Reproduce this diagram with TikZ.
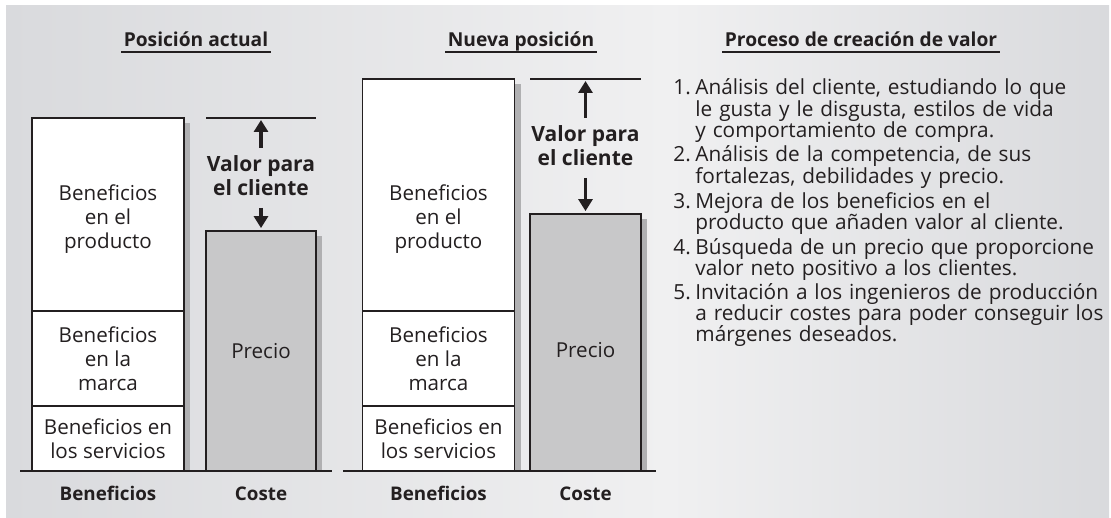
\documentclass[tikz,border=0pt]{standalone}
\usepackage{fontspec}
\setmainfont{Open Sans}
\usetikzlibrary{arrows.meta}

\definecolor{panelgray}{RGB}{217,218,221}
\definecolor{panellight}{RGB}{240,240,241}
\definecolor{shadowgray}{RGB}{176,176,178}
\definecolor{costgray}{RGB}{200,200,201}
\definecolor{inkgray}{RGB}{35,31,32}

\pgfdeclarehorizontalshading{panelshade}{100bp}{color(0bp)=(panelgray); color(25bp)=(panelgray); color(55bp)=(panellight); color(75bp)=(panelgray); color(100bp)=(panelgray)}

\newcommand{\boxfont}{\fontsize{10.3}{12}\selectfont}
\newcommand{\headfont}{\fontsize{9.6}{12}\selectfont\bfseries}
\newcommand{\footfont}{\fontsize{9.4}{12}\selectfont\bfseries}
\newcommand{\valfont}{\fontsize{10.5}{11.7}\selectfont\bfseries}
\newcommand{\listfont}{\fontsize{10.4}{10.6}\selectfont}

\tikzset{
  benbox/.style={draw=inkgray, line width=0.9pt, fill=white, minimum width=76pt, inner sep=0pt, align=center, font=\boxfont, text=inkgray},
  costbox/.style={benbox, fill=costgray, minimum width=55pt},
  txt/.style={align=center, font=\boxfont, text=inkgray, inner sep=0pt},
  valtxt/.style={align=center, font=\valfont, text=inkgray, inner xsep=0pt, inner ysep=4pt, text depth=2pt},
  heading/.style={font=\headfont, text=inkgray, inner xsep=1pt, inner ysep=0pt},
  foot/.style={font=\footfont, text=inkgray, inner sep=0pt},
  listitem/.style={font=\listfont, text=inkgray, text width=230pt, align=left, inner sep=0pt, anchor=base west},
  listnum/.style={font=\listfont, text=inkgray, inner sep=0pt, anchor=base west},
  groundline/.style={inkgray, line width=0.8pt},
  topline/.style={inkgray, line width=0.6pt},
  uline/.style={inkgray, line width=0.6pt},
  valarrow/.style={inkgray, line width=1.8pt, -{Triangle[width=7pt,length=6pt]}, shorten >=1pt},
}

\begin{document}
\begin{tikzpicture}[x=0.5pt,y=-0.5pt]
  \useasboundingbox (0,0) rectangle (1111,518);
  % Background panel
  \shade[shading=panelshade] (6,6) rectangle (1109,518);

  % Headings
  \node[heading, anchor=base] (headA) at (196,47) {Posición actual};
  \node[heading, anchor=base] (headB) at (521,47) {Nueva posición};
  \node[heading, anchor=base] (headC) at (861,47) {Proceso de creación de valor};
  \foreach \h in {headA,headB,headC}
    \draw[uline] ([yshift=-2.5pt]\h.base west) -- ([yshift=-2.5pt]\h.base east);

  % Posicion actual
  \fill[shadowgray] (184,123) rectangle (190,471);
  \fill[shadowgray] (316,236) rectangle (322,471);
  \node[benbox, minimum height=96.5pt] (prodA) at (108,214.5) {};
  \node[benbox, minimum height=47.5pt] (marcaA) at (108,358.5) {Beneficios\\en la\\marca};
  \node[benbox, minimum height=32.5pt] (servA) at (108,438.5) {Beneficios en\\los servicios};
  \node[costbox, minimum height=120pt] (costA) at (261,351) {Precio};
  \node[txt] (prodAtxt) at (108,219) {Beneficios\\en el\\producto};

  \draw[topline] (206,118) -- (316,118);
  \coordinate (topA) at (261,118);
  \node[valtxt] (valA) at (261,177.7) {Valor para\\el cliente};
  \draw[valarrow] (valA) -- (topA);
  \draw[valarrow] (valA) -- (costA);

  \draw[groundline] (20,471) -- (332,471);
  \node[foot, anchor=base] (benA) at (108,500) {Beneficios};
  \node[foot, anchor=base] (cosA) at (261,500) {Coste};

  % Nueva posicion
  \fill[shadowgray] (515,84) rectangle (521,471);
  \fill[shadowgray] (641,219) rectangle (647,471);
  \node[benbox, minimum height=116pt] (prodB) at (438.5,195) {};
  \node[benbox, minimum height=47.5pt] (marcaB) at (438.5,358.5) {Beneficios\\en la\\marca};
  \node[benbox, minimum height=32.5pt] (servB) at (438.5,438.5) {Beneficios en\\los servicios};
  \node[costbox, minimum height=128.5pt, minimum width=55.5pt] (costB) at (585.5,342.5) {};
  \node[txt] (prodBtxt) at (438.5,219) {Beneficios\\en el\\producto};
  \node[txt] (costBtxt) at (585.5,350) {Precio};

  \draw[topline] (530,79) -- (641,79);
  \coordinate (topB) at (585.5,79);
  \node[valtxt] (valB) at (585.5,147.7) {Valor para\\el cliente};
  \draw[valarrow] (valB) -- (topB);
  \draw[valarrow] (valB) -- (costB);

  \draw[groundline] (343,471) -- (656,471);
  \node[foot, anchor=base] (benB) at (438.5,500) {Beneficios};
  \node[foot, anchor=base] (cosB) at (585.5,500) {Coste};

  % Proceso de creacion de valor
  \foreach \n/\y in {1/95,2/162,3/208,4/254,5/299}
    \node[listnum] (num\n) at (673,\y) {\n.};
  \node[listitem] (item1) at (695,95) {Análisis del cliente, estudiando lo que\\le gusta y le disgusta, estilos de vida\\y comportamiento de compra.};
  \node[listitem] (item2) at (695,162) {Análisis de la competencia, de sus\\fortalezas, debilidades y precio.};
  \node[listitem] (item3) at (695,208) {Mejora de los beneficios en el\\producto que añaden valor al cliente.};
  \node[listitem] (item4) at (695,254) {Búsqueda de un precio que proporcione\\valor neto positivo a los clientes.};
  \node[listitem] (item5) at (695,299) {Invitación a los ingenieros de producción\\a reducir costes para poder conseguir los\\márgenes deseados.};
\end{tikzpicture}
\end{document}
